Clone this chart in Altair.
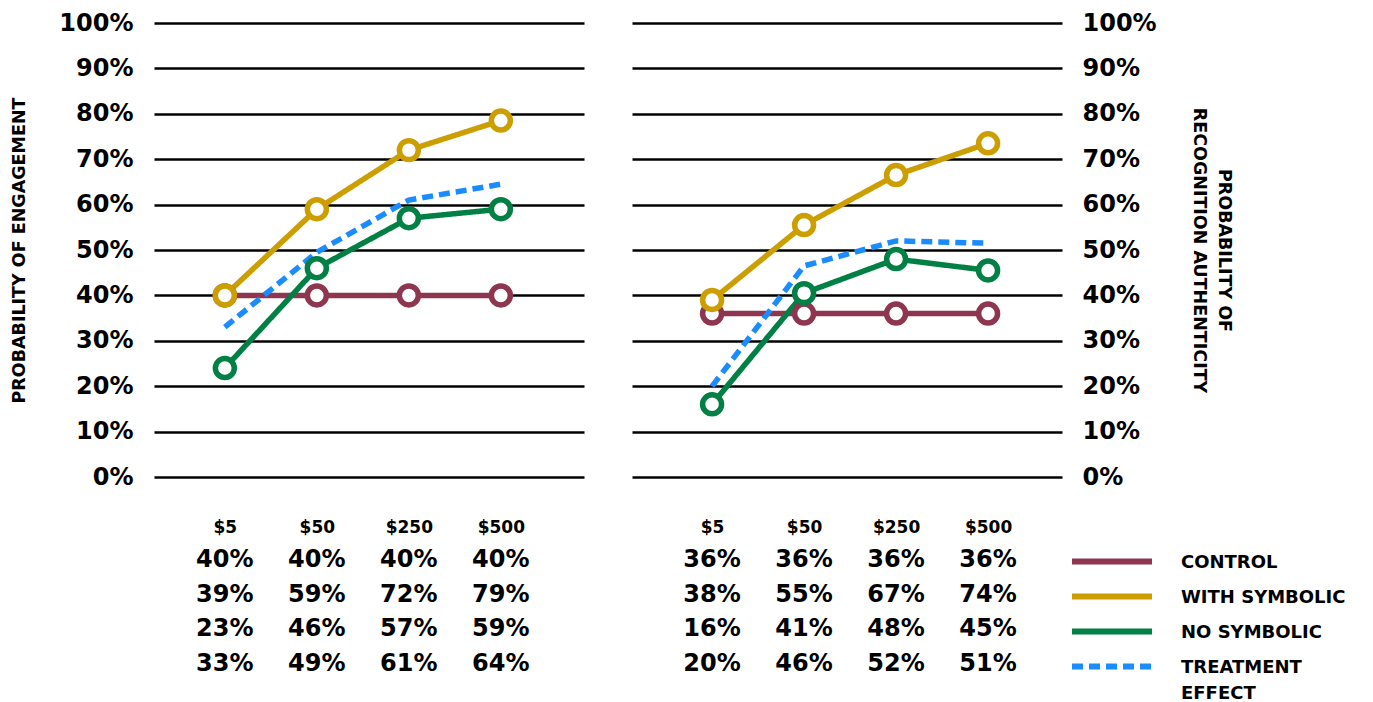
import altair as alt
import pandas as pd

FONT = "DejaVu Sans"

categories = ["$5", "$50", "$250", "$500"]
series_names = ["CONTROL", "WITH SYMBOLIC", "NO SYMBOLIC", "TREATMENT EFFECT"]
series_colors = ["#8E3550", "#CC9E00", "#008044", "#1A8CFF"]
series_dashes = [[1, 0], [1, 0], [1, 0], [11, 6]]
y_ticks = [0, 10, 20, 30, 40, 50, 60, 70, 80, 90, 100]

# Probability of engagement: plotted positions (%)
eng_control = [40, 40, 40, 40]
eng_with_symbolic = [40, 59, 72, 78.5]
eng_no_symbolic = [24, 46, 57, 59]
eng_treatment = [33, 49.5, 61, 64.5]
# Probability of engagement: table values (%)
eng_tab_control = [40, 40, 40, 40]
eng_tab_with = [39, 59, 72, 79]
eng_tab_no = [23, 46, 57, 59]
eng_tab_treat = [33, 49, 61, 64]

# Probability of recognition authenticity: plotted positions (%)
auth_control = [36, 36, 36, 36]
auth_with_symbolic = [39, 55.5, 66.5, 73.5]
auth_no_symbolic = [16, 40.5, 48, 45.5]
auth_treatment = [20, 46.5, 52, 51.5]
# Probability of recognition authenticity: table values (%)
auth_tab_control = [36, 36, 36, 36]
auth_tab_with = [38, 55, 67, 74]
auth_tab_no = [16, 41, 48, 45]
auth_tab_treat = [20, 46, 52, 51]


def make_panel(lines, table, orient, title, label_padding, title_padding, x_align, show_legend):
    df = pd.DataFrame([
        {"series": s, "cat": c, "value": v}
        for s, vals in zip(series_names, lines)
        for c, v in zip(categories, vals)
    ])
    tdf = pd.DataFrame([
        {"row": r, "cat": c, "label": f"{v}%"}
        for r, vals in enumerate(table)
        for c, v in zip(categories, vals)
    ])

    x = alt.X(
        "cat:O", sort=categories,
        scale=alt.Scale(type="point", padding=0.837, align=x_align),
        axis=alt.Axis(title=None, labelAngle=0, labelFont=FONT, labelFontSize=17,
                      labelFontWeight="bold", labelColor="black", labelPadding=50,
                      labelBaseline="middle", domain=False, ticks=False, tickSize=0,
                      grid=False),
    )
    y = alt.Y(
        "value:Q", scale=alt.Scale(domain=[0, 100]),
        axis=alt.Axis(orient=orient, values=y_ticks, labelExpr="datum.value + '%'",
                      labelFont=FONT, labelFontSize=24, labelFontWeight="bold",
                      labelColor="black", labelPadding=label_padding,
                      domain=False, ticks=False, grid=True, gridColor="black",
                      gridWidth=2.5, gridOpacity=1,
                      title=title, titleFont=FONT, titleFontSize=17.5,
                      titleFontWeight="bold", titleColor="black",
                      titlePadding=title_padding, titleLineHeight=25),
    )
    if show_legend:
        legend = alt.Legend(
            title=None, orient="none", legendX=467, legendY=532, direction="vertical",
            symbolType="M-4,-0.65H4", symbolSize=400, symbolStrokeWidth=6,
            labelFont=FONT, labelFontSize=18, labelFontWeight="bold",
            labelColor="black", labelBaseline="alphabetic", labelOffset=56,
            labelLimit=400, rowPadding=10, padding=0,
            labelExpr="datum.label == 'TREATMENT EFFECT' ? ['TREATMENT', 'EFFECT'] : datum.label",
        )
    else:
        legend = None
    color = alt.Color("series:N", scale=alt.Scale(domain=series_names, range=series_colors),
                      legend=legend)
    dash = alt.StrokeDash("series:N", scale=alt.Scale(domain=series_names, range=series_dashes),
                          legend=legend)

    line_layer = alt.Chart(df).mark_line(strokeWidth=5.5).encode(
        x=x, y=y, color=color, strokeDash=dash)
    point_layer = alt.Chart(df).transform_filter(
        "datum.series != 'TREATMENT EFFECT'"
    ).mark_point(shape="circle", filled=False, fill="white", fillOpacity=1, opacity=1,
                 size=360, strokeWidth=5.5).encode(
        x=x, y=y,
        color=alt.Color("series:N", scale=alt.Scale(domain=series_names, range=series_colors),
                        legend=None))
    text_layers = []
    for r in range(len(table)):
        text_layers.append(
            alt.Chart(tdf[tdf["row"] == r]).mark_text(
                font=FONT, fontSize=24, fontWeight="bold", color="black",
                baseline="middle", align="center"
            ).encode(x=x, y=alt.value(537 + 34.5 * r), text="label:N")
        )
    return alt.layer(line_layer, point_layer, *text_layers).properties(width=430, height=454)


left = make_panel(
    [eng_control, eng_with_symbolic, eng_no_symbolic, eng_treatment],
    [eng_tab_control, eng_tab_with, eng_tab_no, eng_tab_treat],
    "left", "PROBABILITY OF ENGAGEMENT", 21, 30, 0.46, False)
right = make_panel(
    [auth_control, auth_with_symbolic, auth_no_symbolic, auth_treatment],
    [auth_tab_control, auth_tab_with, auth_tab_no, auth_tab_treat],
    "right", ["PROBABILITY OF", "RECOGNITION AUTHENTICITY"], 20, 33, 0.52, True)

chart = alt.hconcat(left, right, spacing=48).resolve_scale(
    color="independent", strokeDash="independent"
).properties(
    padding={"top": 3, "left": 2, "right": 5, "bottom": 0}
).configure(
    background="white",
    style={"guide-label": {"lineHeight": 26}},
    view=alt.ViewConfig(stroke="transparent", strokeWidth=0),
)

chart.save("out.html", embed_options={"renderer": "svg", "actions": False})
